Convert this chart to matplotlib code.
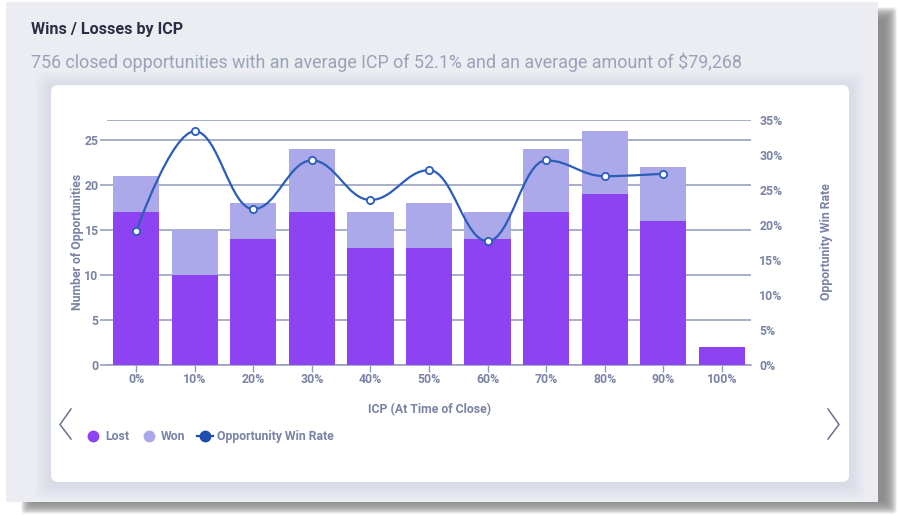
import numpy as np
import matplotlib
matplotlib.use("Agg")
import matplotlib.pyplot as plt
from matplotlib.lines import Line2D
from matplotlib.patches import FancyBboxPatch, PathPatch, Rectangle
from matplotlib.path import Path

W, H = 899, 515

categories = ["0%", "10%", "20%", "30%", "40%", "50%", "60%", "70%", "80%", "90%", "100%"]
lost = [17, 10, 14, 17, 13, 13, 14, 17, 19, 16, 2]
won = [4, 5, 4, 7, 4, 5, 3, 7, 7, 6, 0]
win_rate = [19.05, 33.33, 22.22, 29.17, 23.53, 27.78, 17.65, 29.17, 26.92, 27.27]
left_ticks = [0, 5, 10, 15, 20, 25]
right_ticks = [0, 5, 10, 15, 20, 25, 30, 35]

LOST_C = "#8E43F2"
WON_C = "#ABA9E9"
LINE_C = "#2B5DB9"
GRID_C = "#8F9ABB"
TEXT_C = "#7A82A5"
FS = 8.8

plt.rcParams["font.family"] = ["Roboto", "DejaVu Sans"]


def soft_rect(ax, x0, y0, x1, y1, color, spread, steps=10, alpha=0.14, rad=6):
    # stacked translucent boxes give a blurry shadow
    for i in range(steps):
        g = spread * (1 - i / (steps - 1)) - spread / 2
        ax.add_patch(FancyBboxPatch((x0 - g, y0 - g), x1 - x0 + 2 * g, y1 - y0 + 2 * g,
                                    boxstyle="round,pad=0,rounding_size=%f" % rad,
                                    fc=color, ec="none", alpha=alpha))


def spline_path(xs, ys):
    # bezier through the points, flat at local peaks and dips
    n = len(xs)
    verts = [(xs[0], ys[0])]
    codes = [Path.MOVETO]
    left, right = [None] * n, [None] * n
    for i in range(n):
        if i == 0 or i == n - 1:
            left[i] = right[i] = (xs[i], ys[i])
            continue
        lx = (1.5 * xs[i] + xs[i - 1]) / 2.5
        ly = (1.5 * ys[i] + ys[i - 1]) / 2.5
        rx = (1.5 * xs[i] + xs[i + 1]) / 2.5
        ry = (1.5 * ys[i] + ys[i + 1]) / 2.5
        if rx != lx:
            slope = (ry - ly) / (rx - lx)
            corr = slope * (xs[i] - lx) + ly - ys[i]
            ly -= corr
            ry -= corr
        if (ys[i] - ys[i - 1]) * (ys[i + 1] - ys[i]) < 0:
            ly = ry = ys[i]
        left[i], right[i] = (lx, ly), (rx, ry)
    for i in range(1, n):
        verts += [right[i - 1], left[i], (xs[i], ys[i])]
        codes += [Path.CURVE4] * 3
    return Path(verts, codes)


fig = plt.figure(figsize=(W / 100, H / 100), dpi=100, facecolor="white")

# page furniture, in pixels
bg = fig.add_axes([0, 0, 1, 1])
bg.set_xlim(0, W)
bg.set_ylim(H, 0)
bg.axis("off")
soft_rect(bg, 28, 14, 890, 507, "#858585", 13, steps=14, alpha=0.16, rad=3)
bg.add_patch(Rectangle((6, 2), 871.5, 499.5, fc="#EBEDF3", ec="none"))
soft_rect(bg, 51, 87, 849, 484, "#CBD0E0", 30, steps=18, alpha=0.07, rad=8)
bg.add_patch(FancyBboxPatch((51, 85), 798, 397, boxstyle="round,pad=0,rounding_size=7",
                            fc="white", ec="none"))
bg.text(31, 29.5, "Wins / Losses by ICP", fontsize=11.6, fontweight="bold", color="#2B2E42",
        va="center", ha="left")
bg.text(31, 62, "756 closed opportunities with an average ICP of 52.1% and an average amount of $79,268",
        fontsize=12.92, color="#9AA2B6", va="center", ha="left")
bg.plot([71, 60, 71], [409, 424.5, 439], color="#6B7191", lw=1.1)
bg.plot([828, 839, 828], [409, 424.5, 439], color="#6B7191", lw=1.1)

# chart
ax = fig.add_axes([107 / W, 1 - 365 / H, 644 / W, 245.5 / H])
ax.patch.set_alpha(0)
x = np.arange(len(categories))
ax.bar(x, lost, width=0.79, color=LOST_C, zorder=3, label="Lost")
ax.bar(x, won, width=0.79, bottom=lost, color=WON_C, zorder=3, label="Won")
ax.set_xlim(-0.5, 10.5)
ax.set_ylim(0, 245.5 / 8.99)
ax.set_xticks(x, categories)
ax.set_yticks(left_ticks)
ax.grid(axis="y", color=GRID_C, lw=1.1, zorder=1)
ax.set_axisbelow(True)
for side in ["top", "left", "right"]:
    ax.spines[side].set_visible(False)
ax.spines["bottom"].set_color(GRID_C)
ax.spines["bottom"].set_linewidth(1.1)
ax.tick_params(axis="x", length=5, width=1, color=GRID_C, pad=0.5, labelsize=FS, labelcolor=TEXT_C)
ax.tick_params(axis="y", length=5, width=1.1, color=GRID_C, pad=1, labelsize=FS, labelcolor=TEXT_C)
for lab in ax.get_xticklabels() + ax.get_yticklabels():
    lab.set_fontweight("bold")
ax.set_xlabel("ICP (At Time of Close)", fontsize=FS, fontweight="bold", color=TEXT_C)
ax.xaxis.set_label_coords((429 - 107) / 644, -(410 - 365) / 245.5, transform=ax.transAxes)
ax.xaxis.label.set_va("center")
ax.set_ylabel("Number of Opportunities", fontsize=FS, fontweight="bold", color=TEXT_C)
ax.yaxis.set_label_coords((77.5 - 107) / 644, (365 - 242) / 245.5)
ax.yaxis.label.set_va("center")

ax2 = ax.twinx()
ax2.set_ylim(0, 35)
ax2.set_yticks(right_ticks, ["%d%%" % t for t in right_ticks])
ax2.axhline(35, color=GRID_C, lw=1.1, zorder=1)
for side in ["top", "left", "right", "bottom"]:
    ax2.spines[side].set_visible(False)
ax2.tick_params(axis="y", length=0, pad=6, labelsize=FS, labelcolor=TEXT_C)
for lab in ax2.get_yticklabels():
    lab.set_fontweight("bold")
ax2.set_ylabel("Opportunity Win Rate", fontsize=FS, fontweight="bold", color=TEXT_C)
ax2.yaxis.set_label_coords((827 - 107) / 644, (365 - 242) / 245.5)
ax2.yaxis.label.set_va("center")

xr = x[:len(win_rate)]
ax2.add_patch(PathPatch(spline_path(list(xr), win_rate), fc="none", ec=LINE_C, lw=1.6, zorder=5))
ax2.plot(xr, win_rate, ls="none", marker="o", ms=5.2, mfc="white", mec=LINE_C, mew=1.3, zorder=6)

handles = [
    Line2D([], [], ls="none", marker="o", ms=7.5, color=LOST_C),
    Line2D([], [], ls="none", marker="o", ms=7.5, color=WON_C),
    Line2D([], [], color="#1F4DB0", lw=1.6, marker="o", ms=7.5),
]
fig.legend(handles, ["Lost", "Won", "Opportunity Win Rate"], loc="center left",
           bbox_to_anchor=(85 / W, 1 - 436.5 / H), ncols=3, frameon=False,
           labelcolor=TEXT_C, handlelength=1.3, handletextpad=0.33, columnspacing=0.98,
           prop={"weight": "bold", "size": FS}, borderpad=0, borderaxespad=0)

fig.savefig("out.png", dpi=100)
